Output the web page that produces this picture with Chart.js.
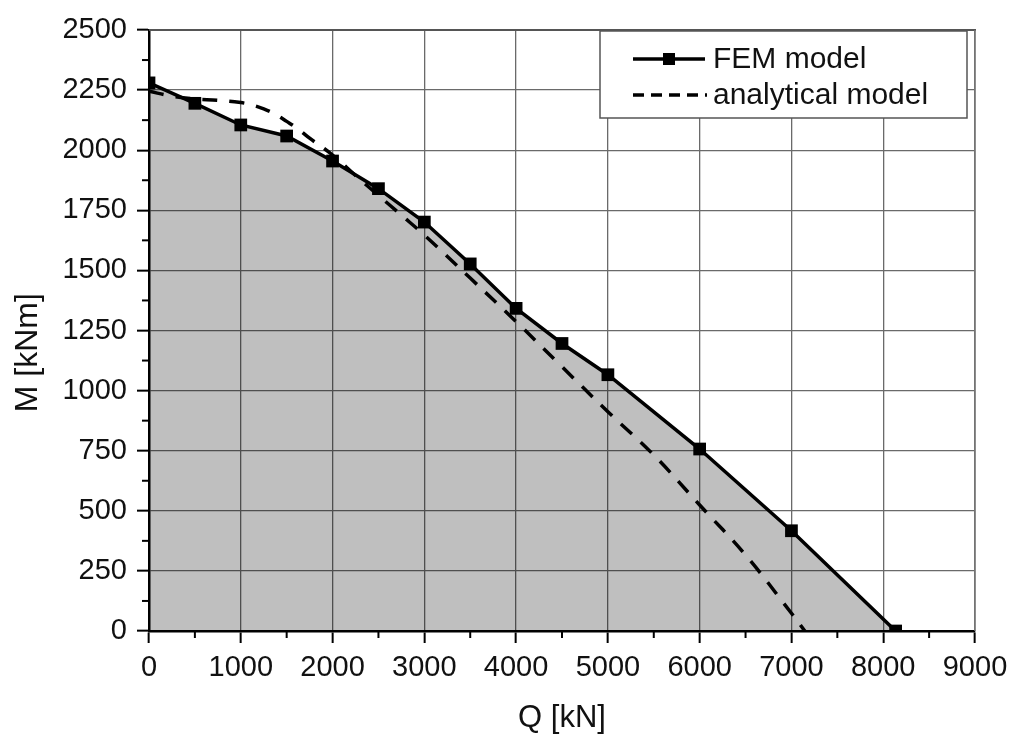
<!DOCTYPE html>
<html>
<head>
<meta charset="utf-8">
<script src="https://cdn.jsdelivr.net/npm/chart.js@4.4.0/dist/chart.umd.min.js"></script>
<style>
  html,body{margin:0;padding:0;background:#fff;}
  #wrap{width:1010px;height:734px;position:relative;}
</style>
</head>
<body>
<div id="wrap"><canvas id="c" width="1010" height="734"></canvas></div>
<script>
// ---- data ----
const femQ = [0, 500, 1000, 1500, 2000, 2500, 3000, 3500, 4000, 4500, 5000, 6000, 7000, 8135];
const femM = [2280, 2195, 2105, 2059, 1955, 1840, 1701, 1527, 1342, 1196, 1066, 757, 417, 0];

const anaQ = [0, 250, 500, 750, 1000, 1125, 1250, 1375, 1500, 1625, 1750, 2000, 2250, 2500, 2750, 3000, 3500, 4000, 4500, 5000, 5500, 6000, 6500, 7000, 7146];
const anaM = [2245, 2225, 2213, 2208, 2198, 2188, 2172, 2150, 2120, 2088, 2050, 1980, 1895, 1812, 1730, 1647, 1468, 1287, 1099, 912, 732, 524, 316, 74, 0];

const seriesLabels = ['FEM model', 'analytical model'];
const xTitle = 'Q [kN]';
const yTitle = 'M [kNm]';
const xMajorTicks = [0, 1000, 2000, 3000, 4000, 5000, 6000, 7000, 8000, 9000];
const yMajorTicks = [0, 250, 500, 750, 1000, 1250, 1500, 1750, 2000, 2250, 2500];
const xMinorTicks = [500, 1500, 2500, 3500, 4500, 5500, 6500, 7500, 8500];
const yMinorTicks = [125, 375, 625, 875, 1125, 1375, 1625, 1875, 2125, 2375];

const FONT = "'Liberation Sans', Arial, Helvetica, sans-serif";

const fem = femQ.map((q, i) => ({x: q, y: femM[i]}));
const ana = anaQ.map((q, i) => ({x: q, y: anaM[i]}));

const decor = {
  id: 'decor',
  afterDraw(chart) {
    const {ctx, chartArea: a, scales: {x, y}} = chart;
    const ln = (x1, y1, x2, y2) => { ctx.beginPath(); ctx.moveTo(x1, y1); ctx.lineTo(x2, y2); ctx.stroke(); };
    ctx.save();
    // minor ticks
    ctx.strokeStyle = '#000'; ctx.lineWidth = 2;
    yMinorTicks.forEach(v => { const p = y.getPixelForValue(v); ln(a.left - 7, p, a.left, p); });
    xMinorTicks.forEach(v => { const p = x.getPixelForValue(v); ln(p, a.bottom, p, a.bottom + 7); });

    // legend box
    const lw = 367, lh = 87;
    const lx = a.right - 8 - lw, ly = a.top + 1;
    ctx.fillStyle = '#fff';
    ctx.fillRect(lx, ly, lw, lh);
    ctx.strokeStyle = '#555'; ctx.lineWidth = 1.5;
    ctx.strokeRect(lx, ly, lw, lh);
    const sx1 = lx + 33, sx2 = lx + 105, tx = lx + 113;
    const r1 = ly + 28, r2 = ly + 64;
    ctx.strokeStyle = '#000'; ctx.lineWidth = 3.5;
    ln(sx1, r1, sx2, r1);
    ctx.fillStyle = '#000';
    ctx.fillRect((sx1 + sx2) / 2 - 6, r1 - 6, 12, 12);
    ctx.setLineDash([11, 7]);
    ln(sx1, r2, sx2 + 2, r2);
    ctx.setLineDash([]);
    ctx.font = '30px ' + FONT;
    ctx.fillStyle = '#111';
    ctx.textBaseline = 'middle';
    ctx.textAlign = 'left';
    ctx.fillText(chart.data.datasets[0].label, tx, r1 + 1);
    ctx.fillText(chart.data.datasets[1].label, tx, r2 + 1);

    // frame top & right
    ctx.strokeStyle = '#555'; ctx.lineWidth = 2;
    ln(a.left, a.top, a.right + 1, a.top);
    ctx.strokeStyle = '#777'; ctx.lineWidth = 1.5;
    ln(a.right, a.top, a.right, a.bottom);
    ctx.restore();
  }
};

new Chart(document.getElementById('c'), {
  type: 'line',
  data: {
    datasets: [
      {
        label: seriesLabels[0],
        data: fem,
        borderColor: '#000',
        borderWidth: 3.5,
        backgroundColor: 'rgba(0,0,0,0.25)',
        fill: 'origin',
        pointStyle: 'rect',
        pointRadius: 9,
        pointBackgroundColor: '#000',
        pointBorderWidth: 0,
        tension: 0,
        clip: 0
      },
      {
        label: seriesLabels[1],
        data: ana,
        borderColor: '#000',
        borderWidth: 3.5,
        borderDash: [15, 12],
        fill: false,
        pointRadius: 0,
        tension: 0.4
      }
    ]
  },
  options: {
    responsive: false,
    animation: false,
    devicePixelRatio: 1,
    layout: {padding: {top: 30, right: 35, left: 0, bottom: 0}},
    plugins: {
      legend: {display: false},
      tooltip: {enabled: false},
      filler: {drawTime: 'beforeDatasetsDraw'}
    },
    scales: {
      x: {
        type: 'linear',
        min: 0, max: 9000,
        afterBuildTicks: s => { s.ticks = xMajorTicks.map(v => ({value: v})); },
        afterFit: s => { s.height = 103; s.paddingLeft = 0; s.paddingRight = 0; },
        ticks: {
          font: {family: FONT, size: 29},
          color: '#111',
          padding: 8,
          maxRotation: 0,
          autoSkip: false,
          callback: v => String(v)
        },
        grid: {color: '#6a6a6a', lineWidth: 1.3, tickLength: 12, tickColor: '#000', tickWidth: 2},
        border: {color: '#000', width: 2.5},
        title: {
          display: true, text: xTitle,
          font: {family: FONT, size: 31, lineHeight: 1},
          color: '#111',
          padding: {top: 0, bottom: 0}
        }
      },
      y: {
        type: 'linear',
        min: 0, max: 2500,
        afterBuildTicks: s => { s.ticks = yMajorTicks.map(v => ({value: v})); },
        afterFit: s => { s.width = 149; },
        ticks: {
          font: {family: FONT, size: 29},
          color: '#111',
          padding: 10,
          autoSkip: false,
          callback: v => String(v)
        },
        grid: {color: '#6a6a6a', lineWidth: 1.3, tickLength: 12, tickColor: '#000', tickWidth: 2},
        border: {color: '#000', width: 2.5},
        title: {
          display: true, text: yTitle + '\u00a0\u00a0\u00a0\u00a0\u00a0',
          font: {family: FONT, size: 32, lineHeight: 1},
          color: '#111',
          padding: {top: 12, bottom: 0}
        }
      }
    }
  },
  plugins: [decor]
});
</script>
</body>
</html>
